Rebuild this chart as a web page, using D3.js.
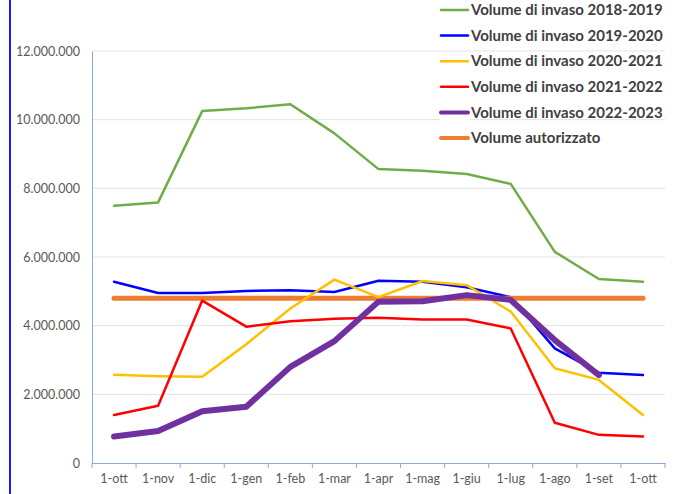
<!DOCTYPE html>
<html><head><meta charset="utf-8">
<script src="https://cdn.jsdelivr.net/npm/d3@7"></script>
<style>body{margin:0;background:#fff;}svg{display:block;}</style>
</head><body>
<script>
const categories = ["1-ott","1-nov","1-dic","1-gen","1-feb","1-mar","1-apr","1-mag","1-giu","1-lug","1-ago","1-set","1-ott "];
const yTicks = [0,2000000,4000000,6000000,8000000,10000000,12000000];
const v2018 = [7490000,7590000,10250000,10330000,10450000,9600000,8560000,8510000,8420000,8130000,6150000,5360000,5280000];
const v2019 = [5280000,4950000,4950000,5010000,5030000,4980000,5310000,5280000,5120000,4830000,3340000,2630000,2560000];
const v2020 = [2570000,2530000,2510000,3460000,4500000,5340000,4830000,5300000,5180000,4410000,2760000,2420000,1400000];
const v2021 = [1400000,1670000,4730000,3970000,4130000,4200000,4230000,4180000,4180000,3920000,1170000,820000,770000];
const v2022 = [770000,930000,1510000,1640000,2800000,3550000,4700000,4710000,4890000,4750000,3580000,2560000,null];
const vAut = [4800000,4800000,4800000,4800000,4800000,4800000,4800000,4800000,4800000,4800000,4800000,4800000,4800000];
const seriesNames = ["Volume di invaso 2018-2019","Volume di invaso 2019-2020","Volume di invaso 2020-2021","Volume di invaso 2021-2022","Volume di invaso 2022-2023","Volume autorizzato"];

const series = [
  {name:seriesNames[0], values:v2018, color:"#70ad47", width:2.5},
  {name:seriesNames[1], values:v2019, color:"#0000ff", width:2.5},
  {name:seriesNames[2], values:v2020, color:"#ffc000", width:2.5},
  {name:seriesNames[3], values:v2021, color:"#ff0000", width:2.5},
  {name:seriesNames[4], values:v2022, color:"#7030a0", width:6},
  {name:seriesNames[5], values:vAut, color:"#ed7d31", width:5}
];
const drawOrder = [0,1,5,2,3,4];

const W=675,H=494;
const svg=d3.select("body").append("svg").attr("width",W).attr("height",H);
const mLeft=92,mRight=665,mTop=51,mBottom=463;
const x=d3.scaleBand().domain(categories).range([mLeft,mRight]);
const y=d3.scaleLinear().domain([0,12000000]).range([mBottom,mTop]);

// left border
svg.append("line").attr("x1",10).attr("x2",10).attr("y1",0).attr("y2",H).attr("stroke","#1a1aff").attr("stroke-width",2);

// gridlines
svg.append("g").selectAll("line").data(yTicks.filter(d=>d>0)).join("line")
  .attr("x1",mLeft).attr("x2",mRight).attr("y1",d=>y(d)).attr("y2",d=>y(d))
  .attr("stroke","#e3e3e3").attr("stroke-width",1);

const fmt = d=> d===0?"0":d3.format(",")(d).replace(/,/g,".");
const yAxis=svg.append("g").attr("transform",`translate(${mLeft},0)`)
  .call(d3.axisLeft(y).tickValues(yTicks).tickFormat(fmt).tickSize(0).tickPadding(12));
yAxis.select(".domain").attr("stroke","#8eaadb");
yAxis.selectAll("text").attr("font-family","Lato, 'Open Sans', sans-serif").attr("font-size",12.5).attr("fill","#595959");

const xAxis=svg.append("g").attr("transform",`translate(0,${mBottom})`)
  .call(d3.axisBottom(x).tickSize(0).tickPadding(11));
xAxis.select(".domain").attr("stroke","#8eaadb");
xAxis.selectAll("text").attr("font-family","Lato, 'Open Sans', sans-serif").attr("font-size",12.5).attr("fill","#595959");
// category boundary ticks
const bounds = categories.map(c=>x(c)).concat([mRight]);
svg.append("g").selectAll("line").data(bounds).join("line")
  .attr("x1",d=>d).attr("x2",d=>d).attr("y1",mBottom).attr("y2",mBottom+5)
  .attr("stroke","#8eaadb");

const line=d3.line().defined(d=>d!==null).x((d,i)=>x(categories[i])+x.bandwidth()/2).y(d=>y(d));
drawOrder.forEach(i=>{
  const s=series[i];
  svg.append("path").attr("d",line(s.values)).attr("fill","none")
    .attr("stroke",s.color).attr("stroke-width",s.width).attr("stroke-linejoin","round").attr("stroke-linecap","round");
});

// legend
const lg=svg.append("g");
series.forEach((s,i)=>{
  const yy=10+i*25.6;
  lg.append("rect").attr("x",440).attr("y",yy-3).attr("width",30).attr("height",16).attr("fill","#fff");
  lg.append("line").attr("x1",441).attr("x2",468).attr("y1",yy).attr("y2",yy)
    .attr("stroke",s.color).attr("stroke-width",(i===4||i===5)?4:2.5).attr("stroke-linecap","round");
  lg.append("text").attr("x",471).attr("y",yy).attr("dy","0.35em")
    .attr("font-family","Lato, 'Open Sans', sans-serif").attr("font-weight","bold").attr("font-size",15)
    .attr("fill","#404040").text(s.name);
});
</script>
</body></html>
